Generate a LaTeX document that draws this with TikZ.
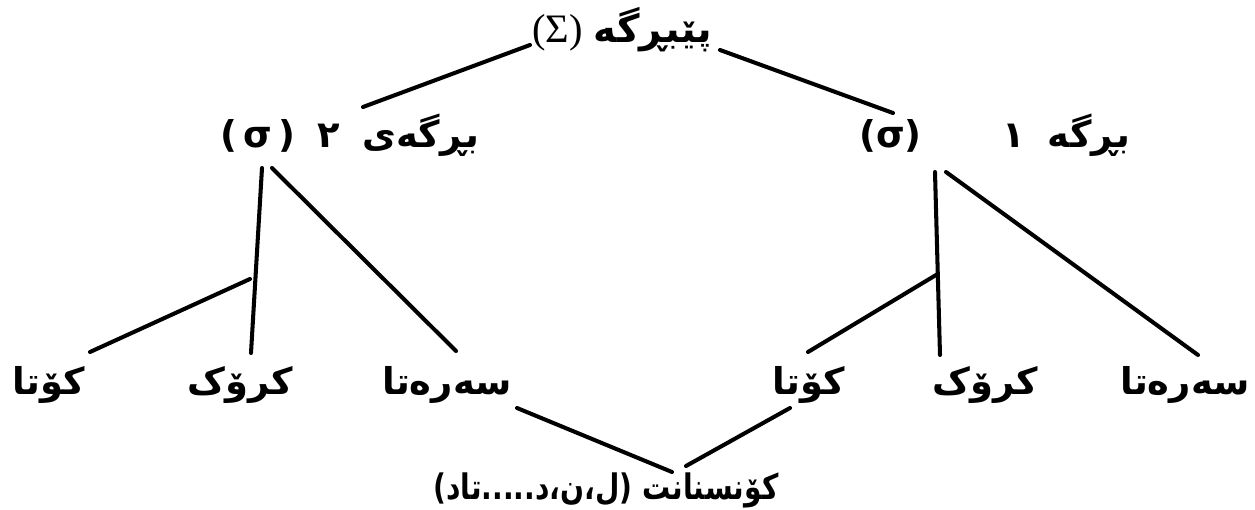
\documentclass[tikz,border=0pt]{standalone}
\usepackage{fontspec}
\TeXXeTstate=1
\newfontfamily\arfont[Script=Arabic]{DejaVu Sans Bold}
\newfontfamily\arnarrow[Script=Arabic,FakeStretch=0.8]{DejaVu Sans Bold}
\newfontfamily\grfont{Liberation Serif}
\newfontfamily\pfont{DejaVu Sans Bold}
\newfontfamily\pnarrow[FakeStretch=0.8]{DejaVu Sans Bold}
\newcommand{\ar}[1]{{\arfont\beginR #1\endR}}
\newcommand{\arn}[1]{{\arnarrow\beginR #1\endR}}
\begin{document}
\begin{tikzpicture}[x=0.02cm,y=-0.02cm,
  lbl/.style={inner sep=0pt,font=\fontsize{21}{25}\selectfont},
  edge/.style={line width=2.3pt,line cap=round}]
\useasboundingbox (0,0) rectangle (1255,510);
% nodes
\node[lbl] (foot) at (622,30) {{\grfont\fontsize{23}{27}\selectfont(Σ)}\ \ar{\fontsize{22}{26}\selectfont پێبڕگە}};
\node[lbl] (s2) at (350,135) {{\pfont(\,σ\,)}\ \ {\pfont ٢}\ \ \ar{بڕگەی}};
\node[lbl] (s1) at (995,135) {{\pfont(σ)}\hspace{2.2em}{\pfont ١}\ \ \ar{بڕگە}};
\node[lbl] (codaL) at (49,385) {\ar{کۆتا}};
\node[lbl] (nucL) at (240,385) {\ar{کرۆک}};
\node[lbl] (onsL) at (447,385) {\ar{سەرەتا}};
\node[lbl] (codaR) at (809,385) {\ar{کۆتا}};
\node[lbl] (nucR) at (985,385) {\ar{کرۆک}};
\node[lbl] (onsR) at (1185,385) {\ar{سەرەتا}};
\node[lbl,font=\fontsize{20}{24}\selectfont] (cons) at (606,490) {{\pnarrow(}\arn{ل،ن،د.....تاد}{\pnarrow)}\ \arn{کۆنسنانت}};
% connector ends
\coordinate (f1) at (530,45);
\coordinate (f2) at (720,50);
\coordinate (s2a) at (363,107);
\coordinate (s1a) at (893,113);
\coordinate (s2t) at (262,168);
\coordinate (s2u) at (272,168);
\coordinate (s2b) at (250,279);
\coordinate (cLt) at (90,352);
\coordinate (nLt) at (251,353);
\coordinate (oLt) at (456,351);
\coordinate (s1t) at (935,172);
\coordinate (s1u) at (946,172);
\coordinate (s1b) at (936,275);
\coordinate (cRt) at (808,352);
\coordinate (nRt) at (940,355);
\coordinate (oRt) at (1198,355);
\coordinate (oLb) at (517,408);
\coordinate (cRb) at (790,408);
\coordinate (k1) at (672,472);
\coordinate (k2) at (686,466);
% connectors
\draw[edge] (f1) -- (s2a);
\draw[edge] (f2) -- (s1a);
\draw[edge] (s2t) -- (nLt);
\draw[edge] (s2u) -- (oLt);
\draw[edge] (s2b) -- (cLt);
\draw[edge] (s1t) -- (nRt);
\draw[edge] (s1u) -- (oRt);
\draw[edge] (s1b) -- (cRt);
\draw[edge] (oLb) -- (k1);
\draw[edge] (cRb) -- (k2);
\end{tikzpicture}
\end{document}
